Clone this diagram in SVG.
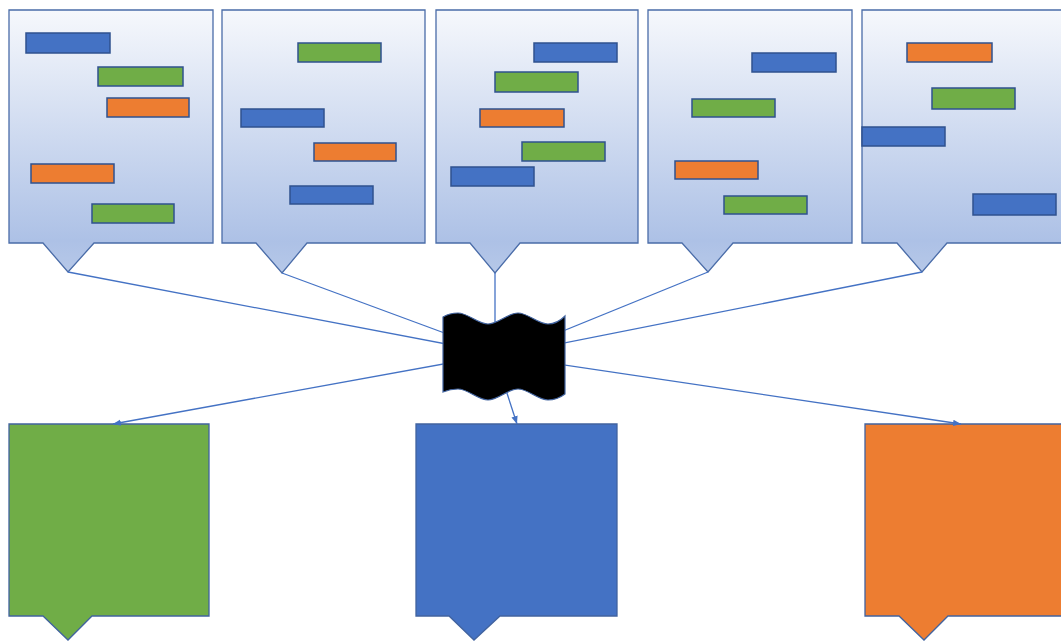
<svg xmlns="http://www.w3.org/2000/svg" width="1061" height="642" viewBox="0 0 1061 642">
  <defs>
    <linearGradient id="g" x1="0" y1="0" x2="0" y2="1">
      <stop offset="0" stop-color="#f6f8fc"/>
      <stop offset="0.88" stop-color="#adc1e6"/>
      <stop offset="1" stop-color="#b6c8e8"/>
    </linearGradient>
    <marker id="ah" markerUnits="userSpaceOnUse" markerWidth="9" markerHeight="8" refX="8" refY="4" orient="auto">
      <path d="M0,0.8 L8,4 L0,7.2 Z" fill="#4472c4"/>
    </marker>
    <style>
      .co { fill: url(#g); stroke: #4a6ca8; stroke-width: 1.3; }
      .bar { stroke: #2f528f; stroke-width: 1.5; }
      .b { fill: #4472c4; }
      .gr { fill: #70ad47; }
      .o { fill: #ed7d31; }
      .box { stroke: #41639f; stroke-width: 1.3; }
      .ln { stroke: #4472c4; stroke-width: 1.3; fill: none; }
      .arr { marker-end: url(#ah); }
    </style>
  </defs>

  <g id="callout1">
    <path class="co" d="M9,10 H213 V243 H94 L68,272 L43,243 H9 Z"/>
    <rect class="bar b" x="26" y="33" width="84" height="20"/>
    <rect class="bar gr" x="98" y="67" width="85" height="19"/>
    <rect class="bar o" x="107" y="98" width="82" height="19"/>
    <rect class="bar o" x="31" y="164" width="83" height="19"/>
    <rect class="bar gr" x="92" y="204" width="82" height="19"/>
  </g>
  <g id="callout2">
    <path class="co" d="M222,10 H425 V243 H307 L282,273 L256,243 H222 Z"/>
    <rect class="bar gr" x="298" y="43" width="83" height="19"/>
    <rect class="bar b" x="241" y="109" width="83" height="18"/>
    <rect class="bar o" x="314" y="143" width="82" height="18"/>
    <rect class="bar b" x="290" y="186" width="83" height="18"/>
  </g>
  <g id="callout3">
    <path class="co" d="M436,10 H638 V243 H520 L495,273 L470,243 H436 Z"/>
    <rect class="bar b" x="534" y="43" width="83" height="19"/>
    <rect class="bar gr" x="495" y="72" width="83" height="20"/>
    <rect class="bar o" x="480" y="109" width="84" height="18"/>
    <rect class="bar gr" x="522" y="142" width="83" height="19"/>
    <rect class="bar b" x="451" y="167" width="83" height="19"/>
  </g>
  <g id="callout4">
    <path class="co" d="M648,10 H852 V243 H733 L708,272 L682,243 H648 Z"/>
    <rect class="bar b" x="752" y="53" width="84" height="19"/>
    <rect class="bar gr" x="692" y="99" width="83" height="18"/>
    <rect class="bar o" x="675" y="161" width="83" height="18"/>
    <rect class="bar gr" x="724" y="196" width="83" height="18"/>
  </g>
  <g id="callout5">
    <path class="co" d="M862,10 H1075 V243 H947 L922,272 L897,243 H862 Z"/>
    <rect class="bar o" x="907" y="43" width="85" height="19"/>
    <rect class="bar gr" x="932" y="88" width="83" height="21"/>
    <rect class="bar b" x="862" y="127" width="83" height="19"/>
    <rect class="bar b" x="973" y="194" width="83" height="21"/>
  </g>

  <g id="box-green">
    <path class="box gr" d="M9,424 H209 V616 H92 L68,640 L43,616 H9 Z"/>
  </g>
  <g id="box-blue">
    <path class="box b" d="M416,424 H617 V616 H500 L474,640 L449,616 H416 Z"/>
  </g>
  <g id="box-orange">
    <path class="box o" d="M865,424 H1075 V616 H948 L924,640 L899,616 H865 Z"/>
  </g>

  <g id="connectors">
    <line class="ln" x1="68" y1="272" x2="504" y2="355"/>
    <line class="ln" x1="282" y1="273" x2="504" y2="355"/>
    <line class="ln" x1="495" y1="273" x2="495" y2="355"/>
    <line class="ln" x1="708" y1="272" x2="504" y2="355"/>
    <line class="ln" x1="922" y1="272" x2="504" y2="355"/>
    <line class="ln arr" x1="504" y1="353" x2="113" y2="424"/>
    <line class="ln arr" x1="504" y1="384" x2="517" y2="424"/>
    <line class="ln arr" x1="504" y1="356" x2="961" y2="424"/>
  </g>

  <g id="flag">
    <path fill="#000000" stroke="#41639f" stroke-width="1.2" d="M443,317 C448,314 452,313 458,313 C468,313 478,324 488,324 C498,324 508,313 518,313 C528,313 538,324 548,324 C555,324 561,320 565,316 L565,394 C561,397 555,400 548,400 C538,400 528,389 518,389 C508,389 498,400 488,400 C478,400 468,389 458,389 C452,389 448,390 443,392 Z"/>
  </g>
</svg>
